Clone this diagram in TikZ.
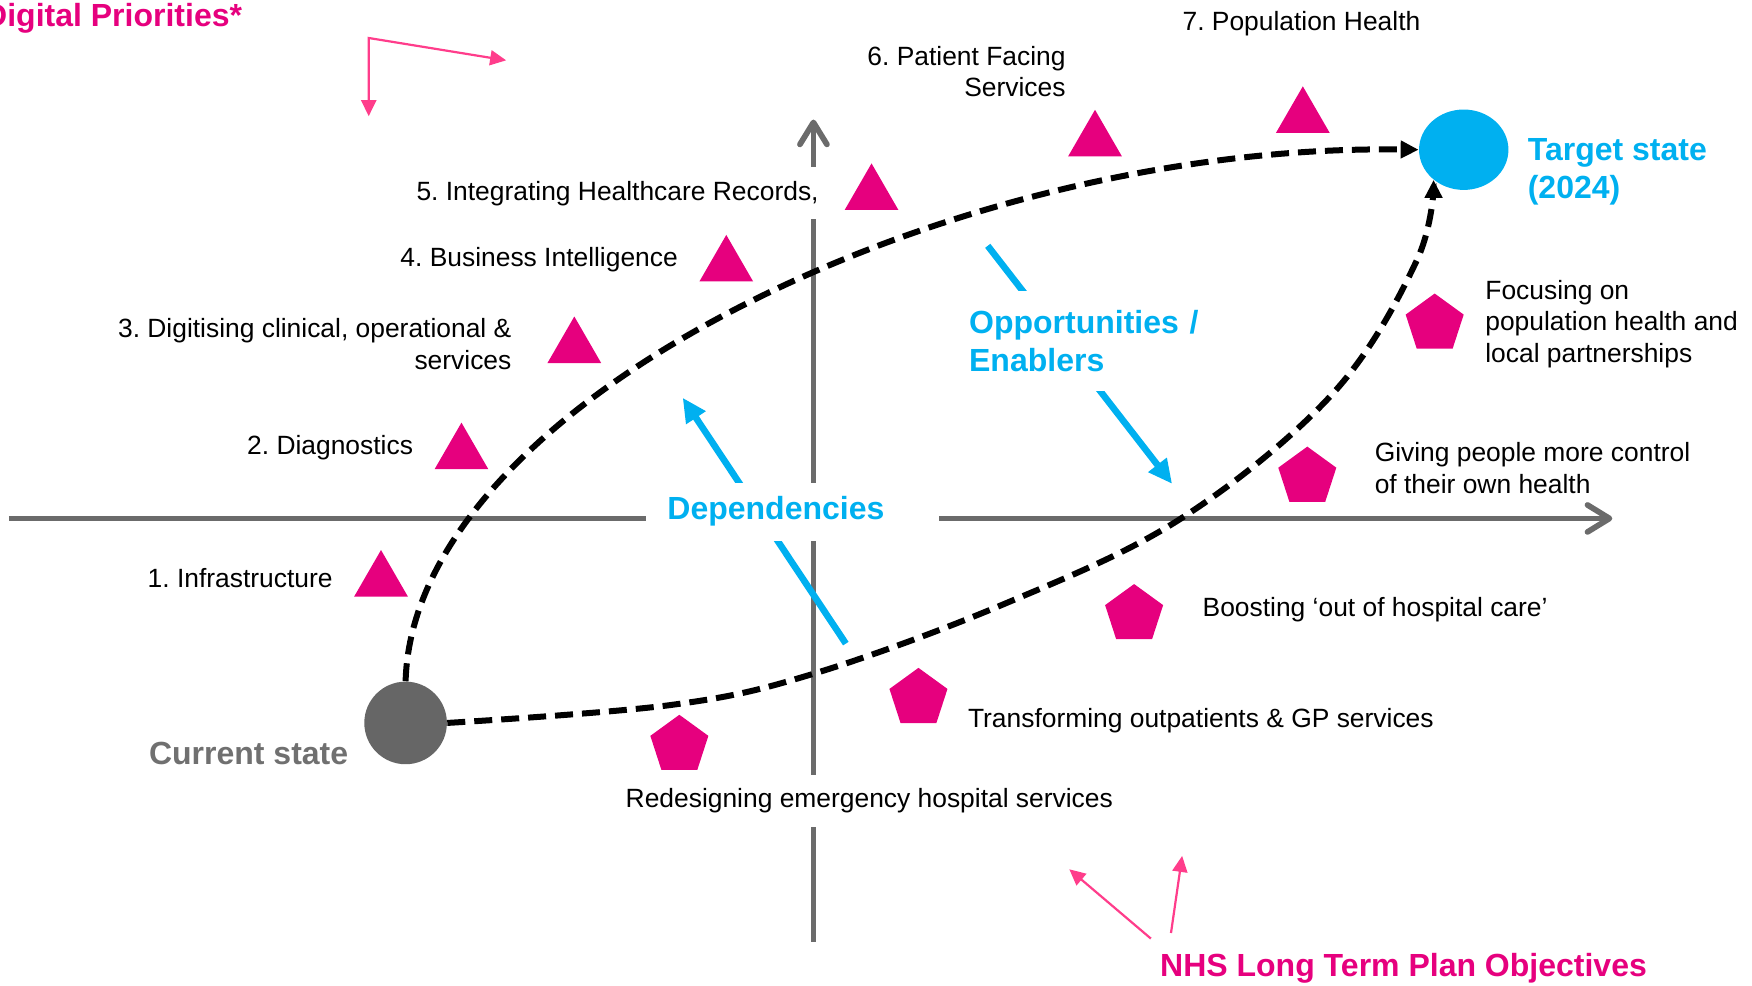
\documentclass[tikz,border=0pt]{standalone}
\usepackage{fontspec}
\setmainfont{Liberation Sans}
\usetikzlibrary{arrows.meta,shapes.geometric}

\definecolor{nhsmag}{HTML}{E6007E}
\definecolor{nhscyan}{HTML}{00B0F0}
\definecolor{axisgray}{HTML}{6B6B6B}
\definecolor{stategray}{HTML}{666666}
\definecolor{labelgray}{HTML}{707070}
\definecolor{pointer}{HTML}{FF3D8B}

\begin{document}
\frenchspacing
\begin{tikzpicture}[x=0.558673pt,y=-0.558673pt,
  lbl/.style={font=\fontsize{13.2}{15.6}\selectfont, inner sep=0pt, text=black, yshift=-1.1pt},
  headline/.style={font=\fontsize{16}{19}\selectfont\bfseries, inner sep=0pt, yshift=-1.1pt},
  tri/.style={regular polygon, regular polygon sides=3, fill=nhsmag, minimum size=31pt, inner sep=0pt},
  pent/.style={regular polygon, regular polygon sides=5, fill=nhsmag, minimum size=30.5pt, inner sep=0pt},
  axisline/.style={draw=axisgray, line width=2.85pt,
    -{Straight Barb[length=11pt,width=13.5pt,line cap=round,line join=round]}},
  flow/.style={draw=nhscyan, line width=3.3pt, -{Triangle[length=12pt,width=11pt]}},
  pathline/.style={draw=black, line width=3pt, dash pattern=on 9pt off 4.5pt,
    -{Triangle[length=9pt,width=8.5pt]}},
  pointerline/.style={draw=pointer, line width=1.1pt},
  whitebox/.style={fill=white}
]
\useasboundingbox (0,0) rectangle (1568,882.4);

% axes
\coordinate (hl) at (8,464);
\coordinate (hr) at (1443,464);
\coordinate (vb) at (728,843);
\coordinate (vt) at (728,107);
\draw[axisline] (hl) -- (hr);
\draw[axisline] (vb) -- (vt);

% dependency / enabler arrows
\coordinate (depS) at (757,576);
\coordinate (depE) at (611,356);
\draw[flow] (depS) -- (depE);
\coordinate (oppS) at (884,220);
\coordinate (oppE) at (1049,433);
\draw[flow] (oppS) -- (oppE);

% labels that sit on white boxes over the axes and arrows
\node[headline, whitebox, text=nhscyan, anchor=west, minimum height=29pt,
      text width=125pt, inner xsep=10.6pt, align=left] (dep) at (578,456) {Dependencies};
\node[headline, whitebox, text=nhscyan, anchor=north west, minimum height=50.3pt,
      text width=125pt, inner xsep=6.7pt, align=left] (opp) at (855,258) {Opportunities /\\Enablers};
\node[lbl, whitebox, anchor=east, minimum height=26pt] (p5) at (733,171) {5. Integrating Healthcare Records,};
\node[lbl, whitebox, minimum height=25.7pt] (o1) at (778,715) {Redesigning emergency hospital services};

% states
\node[circle, fill=stategray, minimum size=41.3pt, inner sep=0pt] (cur) at (363,647) {};
\node[ellipse, fill=nhscyan, minimum width=44.7pt, minimum height=40.2pt, inner sep=0pt] (tgt) at (1310,134) {};
\node[headline, text=labelgray, anchor=east] (curlbl) at (312,672) {Current state};
\node[headline, text=nhscyan, anchor=west, align=left] (tgtlbl) at (1367,152) {Target state\\(2024)};

% journey paths
\draw[pathline] (cur.north) .. controls (370,360) and (850,128) .. (tgt.west);
\draw[pathline] plot[smooth, tension=0.6] coordinates
  {(cur.east) (600,631) (728,603) (900,540) (1057,464) (1193,352) (1268,233) (tgt.225)};

% digital priorities
\node[tri] (t1) at (341,520) {};
\node[tri] (t2) at (413,406) {};
\node[tri] (t3) at (514,311) {};
\node[tri] (t4) at (650,238) {};
\node[tri] (t5) at (780,174) {};
\node[tri] (t6) at (980,126) {};
\node[tri] (t7) at (1166,105) {};
\node[lbl, anchor=east] (p1) at (298,515) {1. Infrastructure};
\node[lbl, anchor=east] (p2) at (370,399) {2. Diagnostics};
\node[lbl, anchor=east, align=right] (p3) at (458,306) {3. Digitising clinical, operational \&\\services};
\node[lbl, anchor=east] (p4) at (607,230) {4. Business Intelligence};
\node[lbl, anchor=east, align=right] (p6) at (954,62) {6. Patient Facing\\Services};
\node[lbl, anchor=west] (p7) at (1058,19) {7. Population Health};

% long term plan objectives
\node[pent] (g1) at (608,667) {};
\node[pent] (g2) at (822,625) {};
\node[pent] (g3) at (1015,550) {};
\node[pent] (g4) at (1170,427) {};
\node[pent] (g5) at (1284,290) {};
\node[lbl, anchor=west] (o2) at (866,643) {Transforming outpatients \& GP services};
\node[lbl, anchor=west] (o3) at (1076,544) {Boosting ‘out of hospital care’};
\node[lbl, anchor=west, align=left] (o4) at (1230,417) {Giving people more control\\of their own health};
\node[lbl, anchor=west, align=left] (o5) at (1329,288) {Focusing on\\population health and\\local partnerships};

% headings with pointers
\node[headline, text=nhsmag, anchor=east] (dphead) at (217,14) {Digital Priorities*};
\node[headline, text=nhsmag, anchor=west] (ltphead) at (1038,865) {NHS Long Term Plan Objectives};

\coordinate (dpCorner) at (330,34);
\coordinate (dpDown) at (330,104);
\coordinate (dpRight) at (453,54);
\draw[pointerline, {Triangle[length=8pt,width=7.5pt]}-{Triangle[length=8pt,width=7.5pt]}]
  (dpDown) -- (dpCorner) -- (dpRight);

\coordinate (ltpA) at (1030,840);
\coordinate (ltpAtip) at (957,778);
\coordinate (ltpB) at (1048,835);
\coordinate (ltpBtip) at (1058,766);
\draw[pointerline, -{Triangle[length=8pt,width=7.5pt]}] (ltpA) -- (ltpAtip);
\draw[pointerline, -{Triangle[length=8pt,width=7.5pt]}] (ltpB) -- (ltpBtip);
\end{tikzpicture}
\end{document}
